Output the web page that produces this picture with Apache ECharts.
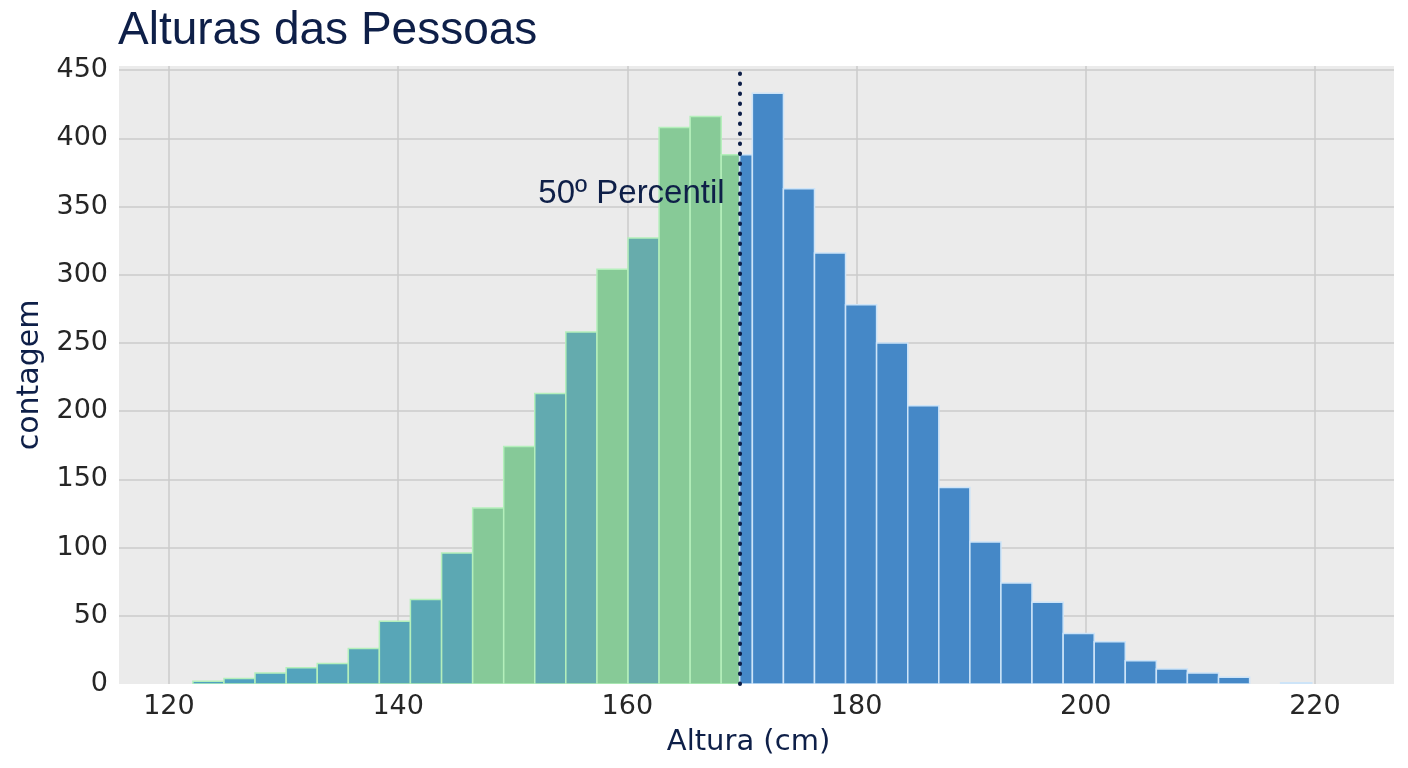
<!DOCTYPE html>
<html>
<head>
<meta charset="utf-8">
<title>Alturas das Pessoas</title>
<script src="https://cdn.jsdelivr.net/npm/echarts@6/dist/echarts.min.js"></script>
<style>
  html, body { margin: 0; padding: 0; background: #fff; }
  #main { width: 1408px; height: 768px; }
</style>
</head>
<body>
<div id="main"></div>
<script>
// bin edges (cm) of the histogram
const binEdges = [
  122.09, 124.80, 127.51, 130.23, 132.94, 135.65, 138.36, 141.07, 143.79,
  146.50, 149.21, 151.92, 154.63, 157.35, 160.06, 162.77, 165.48, 168.19,
  170.91, 173.62, 176.33, 179.04, 181.75, 184.47, 187.18, 189.89, 192.60,
  195.31, 198.03, 200.74, 203.45, 206.16, 208.87, 211.59, 214.30, 217.01,
  219.72
]
// counts per bin
const counts = [
  2, 4, 8, 12, 15, 26, 46, 62, 96, 129, 174, 213, 258, 304, 327, 408, 416, 388,
  433, 363, 316, 278, 250, 204, 144, 104, 74, 60, 37, 31, 17, 11, 8, 5, 0, 1
]
const median = 169.8
const medianLabel = '50º Percentil'
const medianLabelY = 359

// fill of each bin left of the median
const leftFills = [
  '#4fa0c1', '#50a1c0', '#51a2bf', '#53a3bd', '#55a4bb', '#57a5b9', '#58a6b7', '#5aa7b5', '#5ca8b3',
  '#86c998', '#86c998', '#62aab0', '#64abae', '#87ca97', '#67acac', '#87ca97', '#87ca97', '#87ca97'
]
const rightFill = '#4588c7'

const navy = '#0e1f48'

// split every bin at the median so each part gets its own colour
const binData = []
counts.forEach(function(n, i) {
  if (!n) return
  const a = binEdges[i], b = binEdges[i + 1]
  if (a < median && b > median) {
    binData.push([a, median, n, 0, i])
    binData.push([median, b, n, 1, i])
  } else {
    binData.push([a, b, n, a < median ? 0 : 1, i])
  }
})

function renderBin(params, api) {
  const p0 = api.coord([api.value(0), api.value(2)])
  const p1 = api.coord([api.value(1), 0])
  const left = api.value(3) === 0
  return {
    type: 'rect',
    shape: { x: p0[0], y: p0[1], width: p1[0] - p0[0], height: p1[1] - p0[1] },
    style: {
      fill: left ? leftFills[api.value(4)] : rightFill,
      stroke: left ? '#b4efbb' : '#cde4f8',
      lineWidth: 1.5
    }
  }
}

const chart = echarts.init(document.getElementById('main'))

chart.setOption({
  animation: false,
  title: {
    text: 'Alturas das Pessoas',
    left: 113,
    top: 3,
    textStyle: { fontFamily: 'Liberation Sans', fontSize: 46, fontWeight: 'normal', color: navy }
  },
  grid: {
    left: 119, right: 14, top: 66, bottom: 84,
    show: true, backgroundColor: '#ebebeb', borderWidth: 0
  },
  xAxis: {
    type: 'value',
    min: 115.64,
    max: 226.9,
    name: 'Altura (cm)',
    nameLocation: 'middle',
    nameGap: 44,
    nameTextStyle: { fontFamily: 'DejaVu Sans', fontSize: 29, color: navy, padding: [0, 16, 0, 0] },
    axisLine: { show: false },
    axisTick: { show: false },
    axisLabel: {
      showMinLabel: false, showMaxLabel: false,
      margin: 9,
      fontFamily: 'DejaVu Sans', fontSize: 27, color: '#262626'
    },
    splitLine: {
      show: true, showMinLine: false, showMaxLine: false,
      lineStyle: { color: '#cbcbcb', width: 1.5 }
    }
  },
  yAxis: {
    type: 'value',
    min: 0,
    max: 453,
    interval: 50,
    name: 'contagem',
    nameLocation: 'middle',
    nameGap: 72,
    nameRotate: 90,
    nameTextStyle: { fontFamily: 'DejaVu Sans', fontSize: 30, color: navy },
    axisLine: { show: false },
    axisTick: { show: false },
    axisLabel: {
      showMaxLabel: false,
      margin: 11,
      fontFamily: 'DejaVu Sans', fontSize: 27, color: '#262626'
    },
    splitLine: {
      show: true, showMinLine: false, showMaxLine: false,
      lineStyle: { color: '#cbcbcb', width: 1.5 }
    }
  },
  series: [{
    type: 'custom',
    renderItem: renderBin,
    encode: { x: [0, 1], y: 2 },
    data: binData,
    clip: true,
    markLine: {
      silent: true,
      symbol: 'none',
      label: { show: false },
      lineStyle: { color: navy, width: 4, type: [0.5, 9.5], cap: 'round', opacity: 1 },
      data: [{ xAxis: median }]
    },
    markPoint: {
      silent: true,
      symbol: 'circle',
      symbolSize: 0,
      label: {
        show: true,
        position: 'left',
        distance: 15,
        formatter: medianLabel,
        fontFamily: 'Liberation Sans',
        fontSize: 33,
        color: navy
      },
      data: [{ coord: [median, medianLabelY] }]
    }
  }]
})
</script>
</body>
</html>
